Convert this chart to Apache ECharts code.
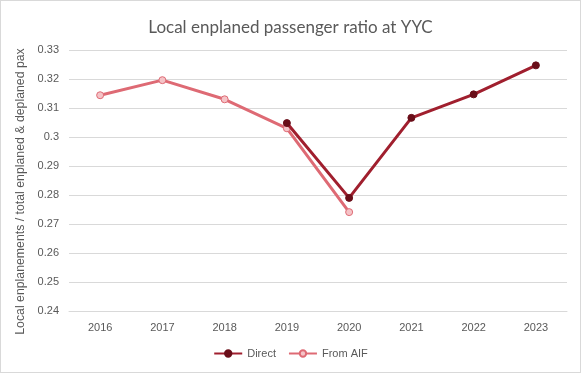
<!DOCTYPE html>
<html><head><meta charset="utf-8">
<script src="https://cdn.jsdelivr.net/npm/echarts@6/dist/echarts.min.js"></script>
<style>html,body{margin:0;padding:0;background:#fff}#c{width:581px;height:373px;box-sizing:border-box;border:1px solid #d9d9d9}</style>
</head><body><div id="c"></div>
<script>
const years = ['2016','2017','2018','2019','2020','2021','2022','2023'];
const direct = [null, null, null, 0.3048, 0.2790, 0.3066, 0.3147, 0.3247];
const fromAIF = [0.3144, 0.3196, 0.3130, 0.3030, 0.2741, null, null, null];
const yTicks = {min: 0.24, max: 0.33, interval: 0.01};

const chart = echarts.init(document.getElementById('c'));
const txt = '#595959';
chart.setOption({
  animation: false,
  title: {text: 'Local enplaned passenger ratio at YYC', left: 'center', top: 13,
    textStyle: {fontFamily: 'Lato', fontSize: 17, fontWeight: 'normal', color: txt}},
  grid: {left: 68, right: 13, top: 49, bottom: 61},
  xAxis: {type: 'category', data: years, boundaryGap: true,
    axisLine: {lineStyle: {color: '#d9d9d9', width: 1}}, axisTick: {show: false},
    axisLabel: {color: txt, fontFamily: 'Liberation Sans', fontSize: 11, margin: 11}},
  yAxis: {type: 'value', min: yTicks.min, max: yTicks.max, interval: yTicks.interval,
    name: 'Local enplanements / total enplaned & deplaned pax', nameLocation: 'middle', nameGap: 37,
    nameTextStyle: {color: txt, fontFamily: 'Liberation Sans', fontSize: 12.3, padding: [0, 22, 0, 0]},
    axisLine: {show: false}, axisTick: {show: false},
    splitLine: {lineStyle: {color: '#d9d9d9', width: 1}},
    axisLabel: {color: txt, fontFamily: 'Liberation Sans', fontSize: 11, margin: 10,
      formatter: v => String(+v.toFixed(2))}},
  legend: {bottom: 8, left: 'center', itemWidth: 28, itemHeight: 8, itemGap: 12,
    textStyle: {color: txt, fontFamily: 'Liberation Sans', fontSize: 11},
    data: ['Direct', 'From AIF']},
  series: [
    {name: 'Direct', type: 'line', data: direct, symbol: 'circle', symbolSize: 7,
      lineStyle: {color: '#A01F2E', width: 3},
      itemStyle: {color: '#6A0E19', borderColor: '#6A0E19', borderWidth: 1}, z: 3},
    {name: 'From AIF', type: 'line', data: fromAIF, symbol: 'circle', symbolSize: 7,
      lineStyle: {color: '#DE6A74', width: 3},
      itemStyle: {color: '#F5C3C7', borderColor: '#DE6A74', borderWidth: 1}, z: 2}
  ]
});
</script></body></html>
